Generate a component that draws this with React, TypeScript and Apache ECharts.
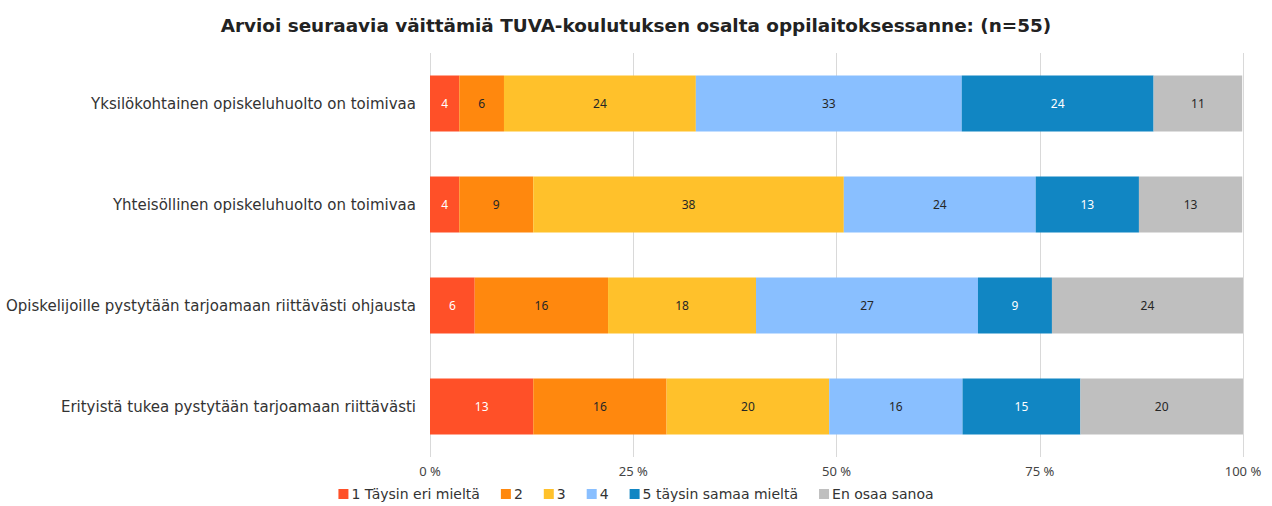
import React, { useEffect, useRef } from "react";
import * as echarts from "echarts";

const categories = [
  "Yksilökohtainen opiskeluhuolto on toimivaa",
  "Yhteisöllinen opiskeluhuolto on toimivaa",
  "Opiskelijoille pystytään tarjoamaan riittävästi ohjausta",
  "Erityistä tukea pystytään tarjoamaan riittävästi",
];
const seriesNames = ["1 Täysin eri mieltä", "2", "3", "4", "5 täysin samaa mieltä", "En osaa sanoa"];
const s1 = [3.6, 3.6, 5.5, 12.7];
const s2 = [5.5, 9.1, 16.4, 16.4];
const s3 = [23.6, 38.2, 18.2, 20.0];
const s4 = [32.7, 23.6, 27.3, 16.4];
const s5 = [23.6, 12.7, 9.1, 14.5];
const s6 = [10.9, 12.7, 23.6, 20.0];
const xTicks = ["0 %", "25 %", "50 %", "75 %", "100 %"];

const colors = ["#FF5028", "#FF880E", "#FFC12B", "#89BFFF", "#1186C3", "#BFBFBF"];
const labelColors = ["#FFFFFF", "#262626", "#262626", "#262626", "#FFFFFF", "#262626"];
const FONT = "'Noto Sans', sans-serif";
const WIDE = "'DejaVu Sans', sans-serif";

export default function App() {
  const ref = useRef<HTMLDivElement>(null);
  useEffect(() => {
    if (!ref.current) return;
    const chart = echarts.init(ref.current, undefined, { renderer: "svg" });
    const all = [s1, s2, s3, s4, s5, s6];
    chart.setOption({
      animation: false,
      textStyle: { fontFamily: FONT },
      title: {
        text: "Arvioi seuraavia väittämiä TUVA-koulutuksen osalta oppilaitoksessanne: (n=55)",
        left: "center",
        top: 11,
        textStyle: { fontSize: 18.4, fontWeight: "bold", color: "#222222", fontFamily: WIDE },
      },
      legend: {
        bottom: 0,
        left: "center",
        itemWidth: 10,
        itemHeight: 10,
        itemGap: 21,
        icon: "rect",
        textStyle: { fontSize: 14, color: "#333333", fontFamily: WIDE, padding: [0, 0, 0, -2] },
        data: seriesNames,
      },
      grid: { left: 430, right: 29, top: 53, height: 404, containLabel: false },
      xAxis: {
        type: "value",
        min: 0,
        max: 100,
        interval: 25,
        axisLine: { show: false },
        axisTick: { show: false },
        splitLine: { show: true, lineStyle: { color: "#D9D9D9", width: 1 } },
        axisLabel: {
          fontSize: 13,
          color: "#444444",
          margin: 7,
          formatter: (v: number) => xTicks[Math.round(v / 25)],
        },
      },
      yAxis: {
        type: "category",
        inverse: true,
        data: categories,
        axisLine: { show: false },
        axisTick: { show: false },
        axisLabel: { fontSize: 15, color: "#333333", margin: 14, fontFamily: WIDE },
      },
      series: all.map((d, i) => ({
        name: seriesNames[i],
        type: "bar",
        stack: "total",
        barWidth: 56,
        itemStyle: { color: colors[i] },
        label: {
          show: true,
          position: "inside",
          fontSize: 12,
          color: labelColors[i],
          formatter: (p: any) => String(Math.round(p.value)),
        },
        data: d,
      })),
    });
    return () => chart.dispose();
  }, []);
  return (
    <div
      ref={ref}
      style={{ position: "absolute", left: 0, top: 0, width: 1272, height: 506, background: "#fff" }}
    />
  );
}
